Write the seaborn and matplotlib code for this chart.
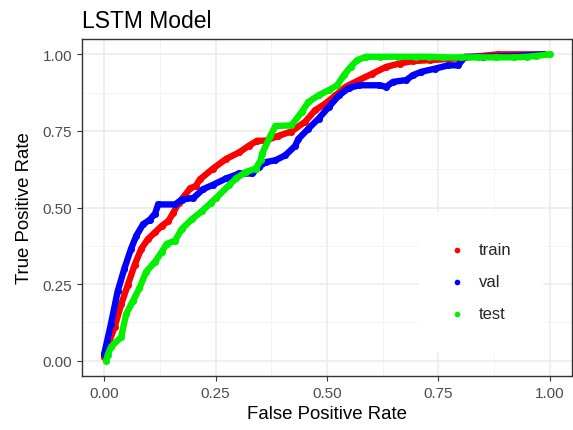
import matplotlib
matplotlib.use("Agg")
import matplotlib.pyplot as plt
import seaborn as sns
import pandas as pd
import numpy as np

# ---- data ----
fpr_train = [0.000, 0.004, 0.023, 0.038, 0.053, 0.068, 0.083, 0.098, 0.114, 0.129, 0.144, 0.155,
             0.167, 0.182, 0.193, 0.205, 0.215, 0.244, 0.274, 0.303, 0.325, 0.343, 0.362, 0.391,
             0.420, 0.451, 0.473, 0.496, 0.519, 0.542, 0.572, 0.602, 0.633, 0.663, 0.693, 0.731,
             0.794, 0.884, 0.988]
tpr_train = [0.012, 0.034, 0.109, 0.184, 0.248, 0.312, 0.365, 0.397, 0.419, 0.440, 0.456, 0.483,
             0.515, 0.542, 0.563, 0.570, 0.592, 0.627, 0.659, 0.680, 0.702, 0.718, 0.718, 0.734,
             0.748, 0.780, 0.817, 0.839, 0.866, 0.894, 0.916, 0.937, 0.959, 0.970, 0.978, 0.981,
             0.987, 1.000, 1.000]

fpr_val = [0.000, 0.015, 0.030, 0.045, 0.060, 0.072, 0.087, 0.102, 0.114, 0.121, 0.159, 0.174,
           0.200, 0.222, 0.244, 0.274, 0.303, 0.332, 0.347, 0.362, 0.384, 0.406, 0.428, 0.436,
           0.458, 0.481, 0.504, 0.527, 0.549, 0.572, 0.617, 0.633, 0.648, 0.678, 0.693, 0.712,
           0.742, 0.772, 0.794, 0.810, 0.850, 0.930, 0.985]
tpr_val = [0.023, 0.120, 0.226, 0.300, 0.365, 0.408, 0.445, 0.460, 0.480, 0.510, 0.510, 0.526,
           0.531, 0.560, 0.574, 0.595, 0.611, 0.611, 0.632, 0.648, 0.654, 0.670, 0.700, 0.724,
           0.757, 0.790, 0.828, 0.866, 0.890, 0.899, 0.899, 0.894, 0.910, 0.916, 0.932, 0.943,
           0.953, 0.964, 0.964, 0.992, 0.992, 0.995, 1.000]

fpr_test = [0.004, 0.008, 0.015, 0.038, 0.049, 0.064, 0.079, 0.094, 0.114, 0.129, 0.140, 0.159,
            0.174, 0.197, 0.220, 0.239, 0.251, 0.281, 0.296, 0.318, 0.340, 0.351, 0.354, 0.373,
            0.384, 0.420, 0.443, 0.458, 0.481, 0.504, 0.523, 0.538, 0.553, 0.568, 0.587, 0.620,
            0.660, 0.700, 0.730, 0.760, 0.800, 0.840, 0.880, 0.920, 0.950, 0.970, 1.000]
tpr_test = [0.000, 0.020, 0.045, 0.077, 0.152, 0.194, 0.237, 0.290, 0.323, 0.355, 0.381, 0.392,
            0.430, 0.462, 0.489, 0.515, 0.531, 0.574, 0.595, 0.616, 0.627, 0.654, 0.675, 0.734,
            0.766, 0.768, 0.811, 0.844, 0.866, 0.883, 0.899, 0.932, 0.959, 0.981, 0.992, 0.992,
            0.992, 0.992, 0.992, 0.990, 0.990, 0.990, 0.990, 0.990, 0.992, 0.995, 1.000]

series_names = ["train", "val", "test"]
series_colors = ["#FF0000", "#0000FF", "#00F000"]
tick_values = [0.00, 0.25, 0.50, 0.75, 1.00]
tick_labels = ["0.00", "0.25", "0.50", "0.75", "1.00"]

df = pd.concat([
    pd.DataFrame({"fpr": fpr_train, "tpr": tpr_train, "set": "train"}),
    pd.DataFrame({"fpr": fpr_val, "tpr": tpr_val, "set": "val"}),
    pd.DataFrame({"fpr": fpr_test, "tpr": tpr_test, "set": "test"}),
], ignore_index=True)

sns.set_style("white")
plt.rcParams["font.family"] = ["Liberation Sans", "DejaVu Sans"]

fig = plt.figure(figsize=(5.73, 4.31), dpi=100)
ax = fig.add_axes([82 / 573, 1 - 377 / 431, 490 / 573, 337 / 431])

palette = dict(zip(series_names, series_colors))
for name in series_names:
    sub = df[df["set"] == name]
    sns.lineplot(data=sub, x="fpr", y="tpr", sort=False, estimator=None, color=palette[name],
                 linewidth=4.6, ax=ax, legend=False, zorder=3, solid_capstyle="round",
                 solid_joinstyle="round")
    sns.scatterplot(data=sub, x="fpr", y="tpr", color=palette[name], s=26, linewidth=0,
                    ax=ax, label=name, zorder=3)

ax.set_xlim(-0.05, 1.05)
ax.set_ylim(-0.05, 1.05)
ax.set_xticks(tick_values)
ax.set_xticklabels(tick_labels)
ax.set_yticks(tick_values)
ax.set_yticklabels(tick_labels)
minor = [0.125, 0.375, 0.625, 0.875]
ax.set_xticks(minor, minor=True)
ax.set_yticks(minor, minor=True)
ax.grid(True, which="major", color="#EBEBEB", linewidth=1.1, zorder=0)
ax.grid(True, which="minor", color="#F2F2F2", linewidth=0.6, zorder=0)
ax.set_axisbelow(True)
ax.tick_params(axis="both", which="major", length=3.5, width=0.8, color="#333333",
               labelcolor="#4D4D4D", labelsize=11, pad=3.5, direction="out",
               bottom=True, left=True)
ax.tick_params(axis="both", which="minor", length=0)
for sp in ax.spines.values():
    sp.set_color("#333333")
    sp.set_linewidth(1.0)

ax.set_xlabel("False Positive Rate", fontsize=13.4, color="black", labelpad=4)
ax.set_ylabel("True Positive Rate", fontsize=13.4, color="black", labelpad=7)
ax.set_title("LSTM Model", fontsize=16.5, loc="left", color="black", pad=9, x=0.0)

handles, labels = ax.get_legend_handles_labels()
leg = ax.legend(handles, labels, loc="upper left", bbox_to_anchor=(419 / 573, 1 - 213 / 431),
                bbox_transform=fig.transFigure, borderaxespad=0, fontsize=12,
                frameon=True, fancybox=False, framealpha=1, edgecolor="white",
                facecolor="white", handlelength=1.0, handletextpad=0.8,
                labelspacing=1.03, borderpad=1.8, markerscale=0.8)

fig.savefig("out.png", dpi=100)
